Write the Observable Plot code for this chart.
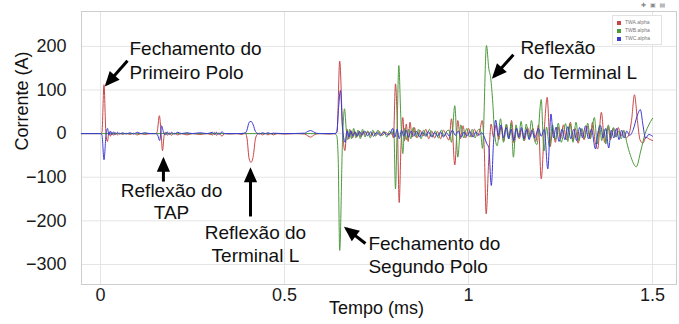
<!DOCTYPE html>
<html><head><meta charset="utf-8">
<script src="https://cdn.jsdelivr.net/npm/d3@7"></script>
<script src="https://cdn.jsdelivr.net/npm/@observablehq/plot@0.6"></script>
<style>
body{margin:0;background:#fff;}
#wrap{position:relative;width:679px;height:324px;overflow:hidden;}
#legend{position:absolute;left:612px;top:15px;width:48px;padding:2px 0 2px 0;border:1px solid #e2e2e2;background:#fff;font:5px "Liberation Sans",Arial,sans-serif;color:#777;}
#legend div{height:8px;line-height:8px;padding-left:4px;white-space:nowrap;}
#legend span.sw{display:inline-block;width:4px;height:4px;margin-right:4px;vertical-align:middle;}
#tools{position:absolute;left:641px;top:1px;font:6px "DejaVu Sans",sans-serif;color:#888;letter-spacing:1px;}
</style></head><body><div id="wrap"></div><script>
const seriesNames = ["TWA.alpha", "TWB.alpha", "TWC.alpha"];
const seriesColors = ["#c94646", "#4c9a3c", "#3a3ad6"];
const xTicks = [0, 0.5, 1, 1.5];
const yTicks = [-300, -200, -100, 0, 100, 200];
const xLabel = "Tempo (ms)";
const yLabel = "Corrente (A)";

// [time (ms), current (A)]
const redPts = [
[-0.052,0],[0.000,0],[0.004,3],[0.0095,112],[0.0150,-4],[0.0190,-18],[0.0230,4],[0.0270,-6],[0.0310,3],[0.0360,-4],[0.0410,2],[0.0460,-3],[0.0520,1],[0.0600,-2],[0.0700,1],[0.0800,-2],[0.0900,1],[0.1000,-3],[0.1100,0],[0.1200,-2],[0.1350,0],[0.1500,0],[0.1540,4],[0.1600,41],[0.1645,4],[0.1685,-39],[0.1730,-4],[0.1770,3],[0.1820,-4],[0.1870,2],[0.1930,-4],[0.2000,1],[0.2100,-3],[0.2200,0],[0.2350,-3],[0.2500,0],[0.2700,-2],[0.2900,0],[0.3050,-3],[0.3100,3],[0.3150,-4],[0.3220,2],[0.3300,-6],[0.3370,0],[0.3500,-1],[0.3700,0],[0.3850,-2],[0.3930,2],[0.3980,-10],[0.4040,-58],[0.4090,-66],[0.4150,-52],[0.4210,-12],[0.4260,-2],[0.4320,1],[0.4400,-3],[0.4480,0],[0.4550,-3],[0.4620,0],[0.4700,-3],[0.4800,0],[0.5000,-1],[0.5300,0],[0.5550,-1],[0.5630,-5],[0.5710,-8],[0.5790,-4],[0.5860,-1],[0.6000,0],[0.6200,-1],[0.6360,0],[0.6430,5],[0.6500,166],[0.6584,0],[0.6640,-39],[0.6700,10],[0.6750,-12],[0.6800,8],[0.6850,-10],[0.6900,6],[0.6960,-8],[0.7020,5],[0.7080,-8],[0.7140,6],[0.7200,-4],[0.7270,5],[0.7350,-6],[0.7420,4],[0.7500,-3],[0.7580,4],[0.7660,-4],[0.7750,3],[0.7850,-3],[0.7910,4],[0.7960,-10],[0.8016,114],[0.8070,10],[0.8117,-158],[0.8165,-30],[0.8215,37],[0.8260,-16],[0.8310,22],[0.8360,-18],[0.8410,26],[0.8470,-8],[0.8530,14],[0.8600,-10],[0.8680,8],[0.8760,-6],[0.8840,10],[0.8920,-12],[0.9000,6],[0.9080,-10],[0.9160,5],[0.9240,-12],[0.9320,8],[0.9400,-6],[0.9470,-15],[0.9538,34],[0.9627,-72],[0.9710,30],[0.9780,-12],[0.9850,18],[0.9920,-10],[1.0000,12],[1.0080,-8],[1.0160,10],[1.0240,-5],[1.0310,8],[1.0370,30],[1.0430,-40],[1.0480,-184],[1.0550,-60],[1.0615,22],[1.0680,-8],[1.0750,20],[1.0820,-14],[1.0890,18],[1.0960,-16],[1.1030,20],[1.1100,-10],[1.1170,30],[1.1240,-22],[1.1310,12],[1.1380,-12],[1.1450,10],[1.1520,-16],[1.1600,14],[1.1680,-8],[1.1750,12],[1.1830,-18],[1.1900,20],[1.1976,-104],[1.2060,10],[1.2138,83],[1.2220,-30],[1.2290,10],[1.2360,-20],[1.2430,16],[1.2500,-12],[1.2580,20],[1.2660,-14],[1.2770,26],[1.2840,-16],[1.2900,12],[1.2980,-22],[1.3060,10],[1.3140,-14],[1.3220,18],[1.3300,-12],[1.3370,26],[1.3440,-18],[1.3510,-35],[1.3610,49],[1.3700,-20],[1.3790,16],[1.3860,-14],[1.3930,12],[1.4000,-8],[1.4070,14],[1.4140,-6],[1.4210,6],[1.4280,-10],[1.4360,-2],[1.4430,30],[1.4510,89],[1.4590,30],[1.4660,-14],[1.4740,-22],[1.4820,-8],[1.4900,-12],[1.5000,-16]
];
const greenPts = [
[-0.052,0],[0.6360,0],[0.6420,-5],[0.6460,-60],[0.6500,-268],[0.6575,-20],[0.6630,57],[0.6680,8],[0.6720,-14],[0.6770,10],[0.6820,-12],[0.6880,12],[0.6940,-10],[0.7000,8],[0.7060,-12],[0.7120,10],[0.7190,-8],[0.7260,6],[0.7330,-10],[0.7400,8],[0.7470,-6],[0.7540,8],[0.7620,-6],[0.7700,6],[0.7780,-8],[0.7860,6],[0.7920,-2],[0.7970,10],[0.8016,-127],[0.8060,10],[0.8106,156],[0.8160,40],[0.8215,-46],[0.8265,12],[0.8310,-14],[0.8370,10],[0.8430,-12],[0.8500,14],[0.8570,-8],[0.8640,10],[0.8710,-12],[0.8780,8],[0.8860,-6],[0.8940,10],[0.9020,-8],[0.9100,6],[0.9180,-10],[0.9260,8],[0.9340,-6],[0.9410,6],[0.9470,8],[0.9538,-20],[0.9627,64],[0.9710,-54],[0.9790,20],[0.9870,-10],[0.9950,12],[1.0030,-8],[1.0100,10],[1.0180,-10],[1.0250,8],[1.0320,10],[1.0380,-34],[1.0489,202],[1.0550,150],[1.0605,126],[1.0660,70],[1.0710,0],[1.0780,-28],[1.0870,34],[1.0950,-20],[1.1030,22],[1.1100,-12],[1.1160,24],[1.1220,-54],[1.1290,20],[1.1360,-10],[1.1430,28],[1.1500,-16],[1.1570,22],[1.1640,-12],[1.1710,30],[1.1780,-10],[1.1860,-25],[1.1976,78],[1.2050,-40],[1.2120,15],[1.2200,-30],[1.2280,20],[1.2360,-14],[1.2440,24],[1.2520,-20],[1.2640,23],[1.2700,-18],[1.2760,22],[1.2840,-20],[1.2920,26],[1.3000,-16],[1.3080,12],[1.3160,-10],[1.3240,24],[1.3310,-12],[1.3420,37],[1.3500,-24],[1.3560,20],[1.3620,-16],[1.3680,10],[1.3730,-24],[1.3800,20],[1.3870,-10],[1.3940,14],[1.4010,-8],[1.4080,6],[1.4150,-12],[1.4220,8],[1.4300,-20],[1.4400,-50],[1.4560,-76],[1.4680,-40],[1.4800,0],[1.4900,20],[1.5000,35]
];
const bluePts = [
[-0.052,0],[0.000,0],[0.004,-3],[0.0095,-60],[0.0150,-4],[0.0190,12],[0.0230,-3],[0.0270,6],[0.0310,-3],[0.0360,4],[0.0410,-2],[0.0460,3],[0.0520,-1],[0.0600,2],[0.0700,-1],[0.0800,2],[0.0900,-1],[0.1000,3],[0.1100,0],[0.1200,2],[0.1350,0],[0.1500,0],[0.1550,-3],[0.1610,-16],[0.1660,18],[0.1710,4],[0.1760,-3],[0.1810,4],[0.1870,-2],[0.1930,3],[0.2000,-1],[0.2100,3],[0.2200,0],[0.2350,2],[0.2500,0],[0.2700,2],[0.2900,0],[0.3050,3],[0.3100,-2],[0.3150,3],[0.3220,-2],[0.3300,4],[0.3370,0],[0.3700,0],[0.3930,1],[0.3980,8],[0.4040,26],[0.4090,28],[0.4150,20],[0.4210,5],[0.4260,1],[0.4320,-1],[0.4400,2],[0.4480,0],[0.4550,2],[0.4620,0],[0.4700,1],[0.5000,0],[0.5550,1],[0.5630,5],[0.5710,7],[0.5790,4],[0.5860,1],[0.6000,0],[0.6380,0],[0.6420,3],[0.6470,60],[0.6520,99],[0.6580,10],[0.6650,-20],[0.6700,6],[0.6750,-8],[0.6800,6],[0.6860,-6],[0.6920,4],[0.6980,-6],[0.7040,5],[0.7100,-4],[0.7180,6],[0.7260,-5],[0.7340,4],[0.7420,-6],[0.7500,3],[0.7600,-4],[0.7700,3],[0.7800,-3],[0.7880,2],[0.7940,12],[0.8000,-8],[0.8060,10],[0.8120,-12],[0.8180,8],[0.8240,-6],[0.8300,8],[0.8370,-8],[0.8440,6],[0.8510,-6],[0.8590,5],[0.8670,-8],[0.8750,4],[0.8830,-6],[0.8910,5],[0.9000,-8],[0.9080,3],[0.9160,-6],[0.9240,4],[0.9320,-8],[0.9400,2],[0.9480,-6],[0.9560,8],[0.9640,-4],[0.9720,6],[0.9800,-8],[0.9880,4],[0.9960,-6],[1.0040,5],[1.0120,-8],[1.0200,4],[1.0280,-4],[1.0360,2],[1.0430,-8],[1.0490,-22],[1.0550,-32],[1.0620,-119],[1.0680,-20],[1.0740,31],[1.0810,-5],[1.0880,20],[1.0950,-10],[1.1020,14],[1.1090,-12],[1.1160,10],[1.1230,-16],[1.1300,12],[1.1370,-8],[1.1440,14],[1.1510,-12],[1.1580,10],[1.1650,-14],[1.1720,8],[1.1800,-10],[1.1900,12],[1.1976,-6],[1.2060,10],[1.2155,-81],[1.2240,45],[1.2310,-10],[1.2380,15],[1.2460,-18],[1.2540,10],[1.2620,-14],[1.2700,16],[1.2780,-12],[1.2860,10],[1.2940,-16],[1.3020,14],[1.3100,-10],[1.3180,18],[1.3260,-12],[1.3340,10],[1.3450,-35],[1.3520,4],[1.3590,18],[1.3660,-10],[1.3730,12],[1.3810,-33],[1.3880,8],[1.3950,-10],[1.4020,12],[1.4090,-14],[1.4160,8],[1.4230,-10],[1.4300,6],[1.4380,-4],[1.4480,10],[1.4580,40],[1.4670,55],[1.4740,20],[1.4810,-11],[1.4900,-2],[1.5000,-6]
];

// annotations: [time, current, text, anchor]
const annTexts = [
[0.0788, 195, "Fechamento do", "start"],
[0.0788, 140, "Primeiro Polo", "start"],
[0.193, -131, "Reflexão do", "middle"],
[0.193, -181, "TAP", "middle"],
[0.421, -227, "Reflexão do", "middle"],
[0.421, -280, "Terminal L", "middle"],
[0.728, -252, "Fechamento do", "start"],
[0.728, -305, "Segundo Polo", "start"],
[1.141, 197, "Reflexão", "start"],
[1.149, 140, "do Terminal L", "start"]
];
// arrows: [tailTime, tailCurrent, tipTime, tipCurrent]
const annArrows = [
[0.0734, 167, 0.0170, 113],
[0.171, -110, 0.171, -60],
[0.4076, -190, 0.4076, -84],
[0.720, -252, 0.668, -218],
[1.122, 181, 1.069, 131]
];

const rows = [];
[redPts, greenPts, bluePts].forEach((pts, i) => pts.forEach(([t, v]) => rows.push({t, v, s: seriesNames[i]})));
const texts = annTexts.map(([t, v, text, anchor]) => ({t, v, text, anchor}));
const arrows = annArrows.map(([t1, v1, t2, v2]) => ({t1, v1, t2, v2}));

const chart = Plot.plot({
  width: 679, height: 324,
  marginLeft: 81, marginRight: 3, marginTop: 11, marginBottom: 40,
  style: {fontFamily: "'Liberation Sans', Arial, sans-serif", fontSize: "18px", color: "#1a1a1a", background: "#fff"},
  x: {domain: [-0.0516, 1.5652], ticks: xTicks, tickFormat: d => String(d), tickSize: 0, tickPadding: 4, label: null},
  y: {domain: [-346, 280], ticks: yTicks, tickSize: 0, tickPadding: 15, label: null},
  color: {domain: seriesNames, range: seriesColors},
  marks: [
    Plot.gridX(xTicks, {stroke: "#e4e4e4", strokeOpacity: 1}),
    Plot.gridY(yTicks, {stroke: "#e4e4e4", strokeOpacity: 1}),
    Plot.frame({stroke: "#cdcdcd"}),
    Plot.line(rows, {x: "t", y: "v", z: "s", stroke: "s", strokeWidth: 1, curve: "monotone-x"}),
    Plot.link(arrows, {x1: "t1", y1: "v1", x2: "t2", y2: "v2", stroke: "#000", strokeWidth: 3, markerEnd: "arrow"}),
    Plot.text(texts.filter(d => d.anchor === "start"), {x: "t", y: "v", text: "text", textAnchor: "start", fontSize: 19, fill: "#111"}),
    Plot.text(texts.filter(d => d.anchor === "middle"), {x: "t", y: "v", text: "text", textAnchor: "middle", fontSize: 19, fill: "#111"}),
    Plot.text([xLabel], {x: () => 0.75, frameAnchor: "bottom", dy: 29, text: d => d, fontSize: 18, fill: "#111"}),
    Plot.text([yLabel], {y: () => -39, frameAnchor: "left", dx: -59, rotate: -90, text: d => d, fontSize: 18, fill: "#111"})
  ]
});

d3.select(chart).selectAll("marker").each(function() {
  const m = d3.select(this);
  m.selectAll("*").remove();
  m.attr("overflow", "visible").attr("fill", "#000").attr("stroke", "none").attr("viewBox", "-5 -5 10 10");
  m.append("path").attr("d", "M-6,-3.3L1.5,0L-6,3.3Z");
});

const wrap = document.getElementById("wrap");
wrap.appendChild(chart);
const legend = document.createElement("div");
legend.id = "legend";
seriesNames.forEach((name, i) => {
  const row = document.createElement("div");
  const sw = document.createElement("span");
  sw.className = "sw"; sw.style.background = seriesColors[i];
  row.appendChild(sw);
  row.appendChild(document.createTextNode(name));
  legend.appendChild(row);
});
wrap.appendChild(legend);
const tools = document.createElement("div");
tools.id = "tools";
tools.textContent = "✚ ▣ ▤";
wrap.appendChild(tools);
</script></body></html>
